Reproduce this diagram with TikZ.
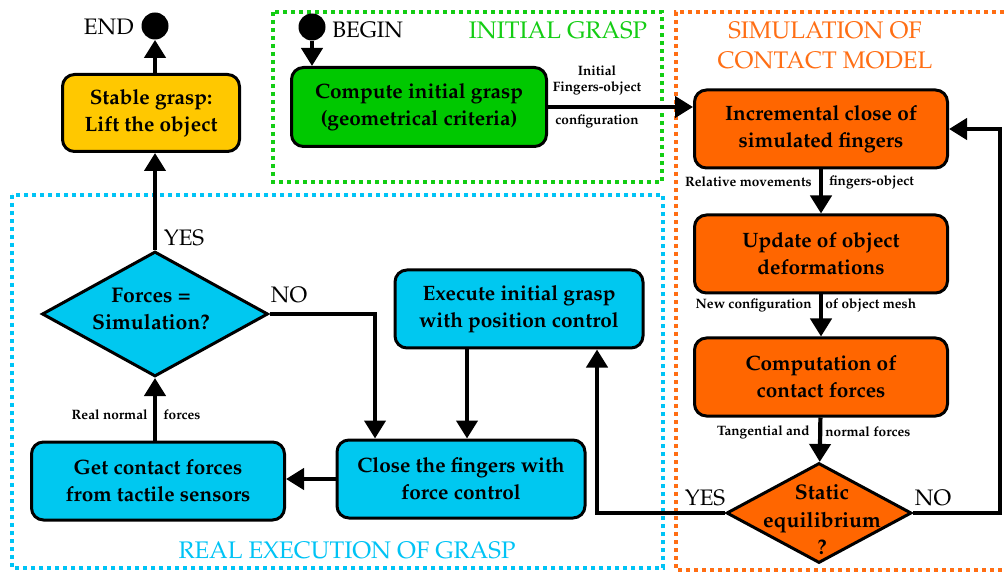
\documentclass[tikz,border=0pt]{standalone}
\usepackage[T1]{fontenc}
\usepackage{mathpazo}
\usetikzlibrary{arrows.meta,shapes.geometric}
\definecolor{yellowc}{RGB}{255,200,0}
\definecolor{greenc}{RGB}{0,200,0}
\definecolor{orangec}{RGB}{255,102,0}
\definecolor{bluec}{RGB}{0,200,240}
\definecolor{greenl}{RGB}{20,205,20}
\definecolor{bluel}{RGB}{0,195,245}
\definecolor{orangel}{RGB}{255,110,20}
\begin{document}
\begin{tikzpicture}[x=0.5pt,y=-0.5pt,
  box/.style={draw, line width=1.5pt, rounded corners=6pt, align=center, inner sep=0pt,
    font=\bfseries\fontsize{10.4}{13.5}\selectfont, minimum width=125pt, minimum height=39pt,
    execute at begin node={\rule{0pt}{12.5pt}}},
  dia/.style={draw, line width=1.5pt, diamond, inner sep=0pt},
  diatext/.style={align=center, font=\bfseries\fontsize{10.6}{13.8}\selectfont, inner sep=0pt},
  arr/.style={line width=2.1pt, -{Triangle[width=10.5pt,length=9pt]}},
  dotbox/.style={line width=2pt, dash pattern=on 2pt off 2pt},
  big/.style={font=\fontsize{11.2}{13}\selectfont, inner sep=0pt},
  title/.style={font=\fontsize{12}{15}\selectfont, inner sep=0pt},
  small/.style={font=\bfseries\fontsize{6.8}{8}\selectfont, inner sep=0pt},
  dot/.style={circle, fill=black, minimum size=13.5pt, inner sep=0pt}
]
\useasboundingbox (0,0) rectangle (1004,576);
% group frames
\draw[dotbox, greenl] (273,12) rectangle (662,182);
\draw[dotbox, bluel] (12,195) rectangle (663,568);
\draw[dotbox, orangel] (1012,12) -- (676,12) -- (676,570) -- (1012,570);
% titles
\node[title, text=greenl] (tinit) at (558,30) {INITIAL GRASP};
\node[title, text=orangel, align=center] (tsim) at (825,45) {SIMULATION OF\\CONTACT MODEL};
\node[title, text=bluel] (treal) at (347,550) {REAL EXECUTION OF GRASP};
% nodes
\node[box, fill=yellowc, minimum width=88.5pt, minimum height=38.5pt] (stable) at (151,113) {Stable grasp:\\Lift the object};
\node[dot] (end) at (155,26) {};
\node[big, anchor=east] (endt) at (134,27) {END};
\node[dot] (begin) at (312,27) {};
\node[big, anchor=west] (begint) at (332,30) {BEGIN};
\node[box, fill=greenc, minimum width=127.5pt, minimum height=39.5pt] (green) at (419,107) {Compute initial grasp\\(geometrical criteria)};
\node[box, fill=orangec, minimum width=126.5pt] (inc) at (821,129) {Incremental close of\\simulated fingers};
\node[box, fill=orangec, minimum width=126.5pt] (upd) at (821,254) {Update of object\\deformations};
\node[box, fill=orangec, minimum width=126.5pt] (comp) at (821,377) {Computation of\\contact forces};
\node[dia, fill=orangec, minimum width=92.5pt, minimum height=50pt] (se) at (819,513) {};
\node[diatext] (setext) at (822,520) {Static\\equilibrium\\?};
\node[box, fill=bluec, minimum width=124pt] (exec) at (519,309) {Execute initial grasp\\with position control};
\node[box, fill=bluec, minimum width=124pt] (close) at (461,479) {Close the fingers with\\force control};
\node[box, fill=bluec, minimum width=126.5pt] (get) at (158,481) {Get contact forces\\from tactile sensors};
\node[dia, fill=bluec, minimum width=113pt, minimum height=62.5pt] (forces) at (155,314) {};
\node[diatext] (forcestext) at (151,309) {Forces =\\Simulation?};
% connectors
\draw[arr] (begin) -- (begin |- green.north);
\draw[arr] (green.east) -- (green.east -| inc.west);
\node[small] (l1) at (597,71) {Initial};
\node[small] (l2) at (597,88) {Fingers-object};
\node[small] (l3) at (597,121) {configuration};
\draw[arr] (inc) -- (upd);
\node[small, anchor=east] (l4) at (812,182) {Relative movements};
\node[small, anchor=west] (l5) at (829,182) {fingers-object};
\draw[arr] (upd) -- (comp);
\node[small, anchor=east] (l6) at (812,305) {New configuration};
\node[small, anchor=west] (l7) at (825,305) {of object mesh};
\draw[arr] (comp) -- (se);
\node[small, anchor=east] (l8) at (810,432) {Tangential and};
\node[small, anchor=west] (l9) at (825,432) {normal forces};
\coordinate (nob) at (1000,513);
\coordinate (not) at (1000,129);
\draw[arr] (se.east) -- (nob) -- (not) -- (inc.east);
\node[big] (not1) at (933,498) {NO};
\coordinate (yesb) at (597,513);
\draw[arr] (se.west) -- (yesb) -- (yesb |- exec.south);
\node[big] (yes1) at (705,498) {YES};
\draw[arr] ([xshift=-26pt]exec.south) -- ([xshift=-26pt]exec.south |- close.north);
\coordinate (fno) at (375,314);
\draw[arr] (forces.east) -- (fno) -- (fno |- close.north);
\node[big] (no2) at (289,295) {NO};
\draw[arr] (close.west) -- (close.west -| get.east);
\draw[arr] (forces.south |- get.north) -- (forces.south);
\node[small, anchor=east] (l10) at (148,415) {Real normal};
\node[small, anchor=west] (l11) at (163,415) {forces};
\draw[arr] (forces.north) -- (forces.north |- stable.south);
\node[big] (yes2) at (184,238) {YES};
\draw[arr] (stable.north -| end) -- (end.south);
\end{tikzpicture}
\end{document}
